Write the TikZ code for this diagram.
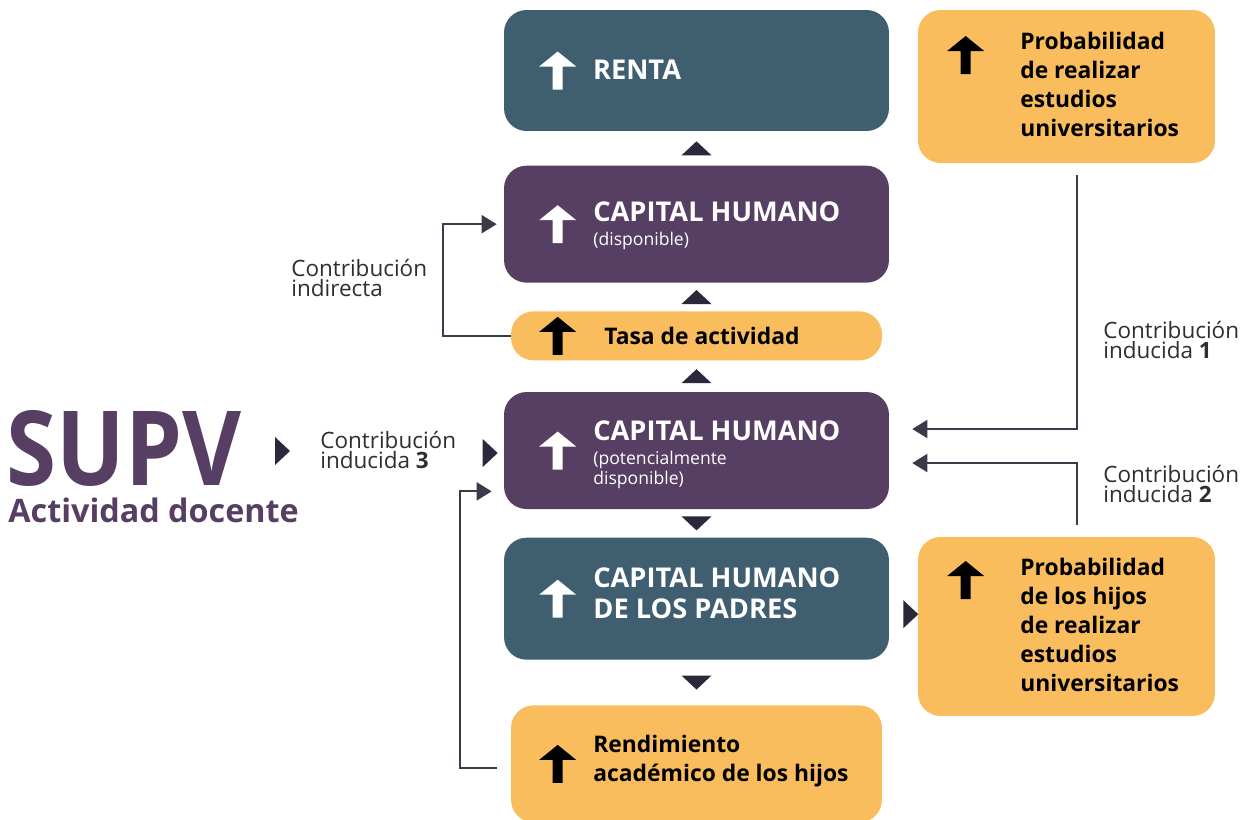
\documentclass[tikz,border=0pt]{standalone}
\usepackage{fontspec}
\setmainfont{Open Sans}
\usetikzlibrary{arrows.meta, positioning, calc}

\definecolor{tealbox}{RGB}{63,94,112}
\definecolor{purplebox}{RGB}{87,62,99}
\definecolor{orangebox}{RGB}{249,189,94}
\definecolor{tipdark}{RGB}{42,40,58}
\definecolor{linegrey}{RGB}{58,58,72}
\definecolor{labelgrey}{RGB}{45,45,50}

\newcommand{\smallnote}{\mdseries\fontsize{10}{11.4}\selectfont}

\tikzset{
    box/.style={rectangle, rounded corners=0.45cm, minimum width=7.7cm, inner sep=0pt},
    darkbox/.style={box, fill=tealbox},
    violetbox/.style={box, fill=purplebox},
    softbox/.style={box, fill=orangebox, minimum width=7.42cm},
    sidebox/.style={box, fill=orangebox, minimum width=5.94cm},
    headtext/.style={anchor=north west, align=left, text=white, inner sep=0pt, font=\bfseries\fontsize{15.5}{17.6}\selectfont},
    softtext/.style={anchor=north west, align=left, text=black, inner sep=0pt, font=\bfseries\fontsize{13}{16.5}\selectfont},
    labeltext/.style={anchor=north west, align=left, text=labelgrey, inner sep=0pt, font=\fontsize{12.8}{11.4}\selectfont},
    conn/.style={draw=linegrey, line width=1.1pt, -{Triangle[length=0.3cm, width=0.36cm]}},
    pics/upicon/.style={code={\fill[#1] (0,-19) -- (18.5,-4) -- (5,-4) -- (5,19) -- (-5,19) -- (-5,-4) -- (-18.5,-4) -- cycle;}},
    pics/tipup/.style={code={\fill[tipdark] (-15,7) -- (0,-7) -- (15,7) -- cycle;}},
    pics/tipdown/.style={code={\fill[tipdark] (-15,-7) -- (0,7) -- (15,-7) -- cycle;}},
    pics/tipright/.style={code={\fill[tipdark] (0,-14) -- (15,0) -- (0,14) -- cycle;}}
}

\begin{document}
\begin{tikzpicture}[x=0.02cm, y=-0.02cm]
    \useasboundingbox (0,0) rectangle (1255,819);

    % central column
    \node[darkbox, minimum height=2.42cm] (renta) at (696.5,70.5) {};
    \node[violetbox, minimum height=2.34cm, below=0.68cm of renta] (chdisp) {};
    \node[softbox, minimum height=0.98cm, below=0.56cm of chdisp] (tasa) {};
    \node[violetbox, minimum height=2.34cm, below=0.62cm of tasa] (chpot) {};
    \node[darkbox, minimum height=2.44cm, below=0.56cm of chpot] (padres) {};
    \node[softbox, minimum height=2.34cm, below=0.9cm of padres] (rend) {};

    % right column
    \node[sidebox, minimum height=3.06cm] (probuni) at (1066.5,86.5) {};
    \node[sidebox, minimum height=3.58cm] (probhijos) at (1066.5,626.5) {};

    % icons
    \pic at ($(renta.west)+(54,0)$) {upicon=white};
    \pic at ($(chdisp.west)+(54,0)$) {upicon=white};
    \pic at ($(chpot.west)+(54,0)$) {upicon=white};
    \pic at ($(padres.west)+(54,0)$) {upicon=white};
    \pic at ($(tasa.west)+(47,0)$) {upicon=black};
    \pic at ($(rend.west)+(47,0)$) {upicon=black};
    \pic at ($(probuni.west)+(48,-31.5)$) {upicon=black};
    \pic at ($(probhijos.west)+(48,-46.5)$) {upicon=black};

    % texts
    \node[headtext] (rentatxt) at ($(renta.west)+(89,-10.5)$) {RENTA};
    \node[headtext] (chdisptxt) at (593,201) {CAPITAL HUMANO\\[-4pt]{\smallnote(disponible)}};
    \node[headtext] (chpottxt) at (593,420) {CAPITAL HUMANO\\[-3.5pt]{\smallnote(potencialmente}\\[-6.5pt]{\smallnote disponible)}};
    \node[headtext] (padrestxt) at (593,567) {CAPITAL HUMANO\\DE LOS PADRES};
    \node[softtext, anchor=base west] (tasatxt) at (604,344) {Tasa de actividad};
    \node[softtext] (rendtxt) at (593,735) {Rendimiento\\acad\'emico de los hijos};
    \node[softtext] (probunitxt) at (1020,32) {Probabilidad\\de realizar\\estudios\\universitarios};
    \node[softtext] (probhijostxt) at (1020,558) {Probabilidad\\de los hijos\\de realizar\\estudios\\universitarios};

    % origin
    \node[anchor=west, inner sep=0pt, text=purplebox, font=\bfseries\fontsize{59}{59}\selectfont] (supv) at (6,448) {\scalebox{0.876}[1]{SUPV}};
    \node[anchor=base west, inner sep=0pt, text=purplebox, font=\bfseries\fontsize{18.4}{20}\selectfont] (docente) at (8,522) {Actividad docente};

    % labels
    \node[labeltext] (lblindirecta) at (291,259) {Contribuci\'on\\indirecta};
    \node[labeltext] (lbltres) at (320,431) {Contribuci\'on\\inducida \textbf{3}};
    \node[labeltext] (lbluno) at (1103,321) {Contribuci\'on\\inducida \textbf{1}};
    \node[labeltext] (lbldos) at (1103,465) {Contribuci\'on\\inducida \textbf{2}};

    % flow tips
    \pic at ($(renta.south)!0.5!(chdisp.north)$) {tipup};
    \pic at ($(chdisp.south)!0.5!(tasa.north)$) {tipup};
    \pic at ($(tasa.south)!0.5!(chpot.north)$) {tipup};
    \pic at ($(chpot.south)!0.5!(padres.north)$) {tipdown};
    \pic at ($(padres.south)!0.5!(rend.north)$) {tipdown};
    \pic at (275,451) {tipright};
    \pic at ($(chpot.west)+(-21,2.5)$) {tipright};
    \pic at ($(padres.east)+(14,15.5)$) {tipright};

    % connectors
    \draw[conn] (tasa.west) -- ++(-68,0) |- ($(chdisp.west)+(-7,0)$);
    \draw[conn] ($(rend.west)+(-14,4.5)$) -- ++(-37,0) |- ($(chpot.south west)+(-12,-18)$);
    \draw[conn] ($(probuni.south)+(10.5,12)$) |- ($(chpot.east)+(23,-21.5)$);
    \draw[conn] ($(probhijos.north)+(10.5,-12)$) |- ($(chpot.east)+(23,12.5)$);
\end{tikzpicture}
\end{document}
